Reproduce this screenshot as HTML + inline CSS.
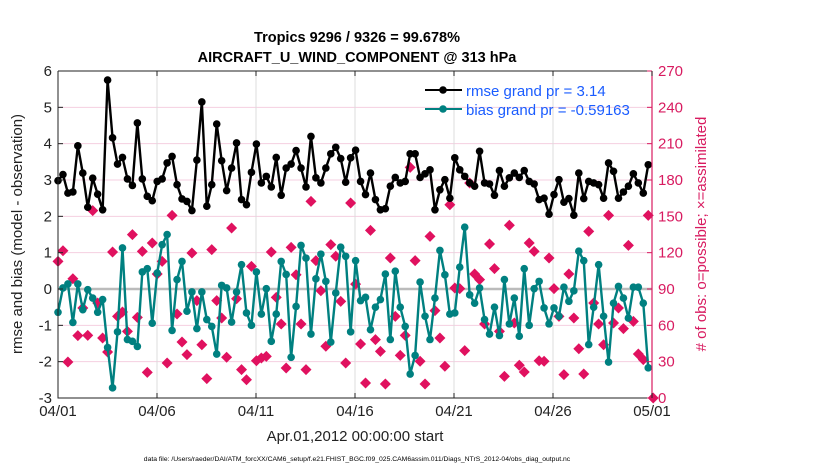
<!DOCTYPE html>
<html><head><meta charset="utf-8"><style>
body{margin:0;background:#fff;}
svg{display:block;font-family:"Liberation Sans",Arial,sans-serif;}
</style></head><body>
<svg id="chart" width="830" height="470" viewBox="0 0 830 470" xmlns="http://www.w3.org/2000/svg">
<rect width="830" height="470" fill="#fff"/>
<text x="357" y="42" text-anchor="middle" font-size="14.5" font-weight="bold">Tropics 9296 / 9326 = 99.678%</text>
<text x="357" y="62" text-anchor="middle" font-size="14.5" font-weight="bold">AIRCRAFT_U_WIND_COMPONENT @ 313 hPa</text>
<g id="grid"></g>
<g id="marks"></g>
<g id="axes"></g>
<text transform="translate(22,234) rotate(-90)" text-anchor="middle" font-size="15" fill="#222">rmse and bias (model - observation)</text>
<text transform="translate(706,234) rotate(-90)" text-anchor="middle" font-size="15" fill="#d81b60"># of obs: o=possible; ×=assimilated</text>
<text x="355" y="441" text-anchor="middle" font-size="15" fill="#222">Apr.01,2012 00:00:00 start</text>
<text x="357" y="461" text-anchor="middle" font-size="6.8" fill="#000">data file: /Users/raeder/DAI/ATM_forcXX/CAM6_setup/f.e21.FHIST_BGC.f09_025.CAM6assim.011/Diags_NTrS_2012-04/obs_diag_output.nc</text>
<g>
<line x1="425" y1="90" x2="462" y2="90" stroke="#000" stroke-width="2"/>
<circle cx="443" cy="90" r="3.8" fill="#000"/>
<text x="466" y="96" font-size="15" fill="#1a5cff">rmse grand pr = 3.14</text>
<line x1="425" y1="109" x2="462" y2="109" stroke="#008080" stroke-width="2"/>
<circle cx="443" cy="109" r="3.8" fill="#008080"/>
<text x="466" y="115" font-size="15" fill="#1a5cff">bias grand pr = -0.59163</text>
</g>
</svg>
<script>
const xTickLabels = ["04/01","04/06","04/11","04/16","04/21","04/26","05/01"];
const xTickDays = [0,5,10,15,20,25,30];
const leftTicks = [-3,-2,-1,0,1,2,3,4,5,6];
const rightTicks = [0,30,60,90,120,150,180,210,240,270];
const rmse = [2.98,3.15,2.64,2.67,3.94,3.19,2.25,3.05,2.61,2.18,5.75,4.16,3.44,3.62,3.03,2.85,4.57,3.03,2.55,2.43,2.96,3.03,3.47,3.65,2.87,2.48,2.41,2.16,3.55,5.15,
2.28,2.87,4.54,3.53,2.71,3.33,4.02,2.46,2.32,3.21,3.99,2.92,3.10,2.81,3.62,2.58,3.33,3.44,3.81,3.33,2.81,4.20,3.06,2.92,3.33,3.72,3.90,3.59,2.94,3.61,
3.82,2.96,2.60,3.19,2.46,2.18,2.21,2.83,3.07,2.92,2.96,3.72,3.72,3.07,3.17,3.28,2.18,2.73,3.01,2.50,3.61,3.28,3.10,2.92,2.83,3.79,2.92,2.89,2.58,3.26,
2.83,3.06,3.19,3.07,3.26,2.96,2.89,2.46,2.50,2.06,2.60,3.01,2.39,2.49,2.03,3.19,2.49,2.96,2.92,2.87,2.50,3.47,3.24,2.50,2.67,2.83,3.17,2.92,2.64,3.42];
const bias = [-0.64,0.03,0.14,-0.92,0.14,-0.57,-0.02,-0.25,-0.64,-0.29,-1.61,-2.72,-1.18,1.13,-1.39,-1.44,-1.58,0.47,0.56,-0.94,0.44,1.22,1.50,-1.14,0.26,0.76,-0.61,-0.08,-1.09,-0.08,
-0.84,-1.03,-1.79,0.10,0.03,-0.91,-0.08,0.67,-0.66,-1.00,0.47,-0.69,0.01,-1.44,-0.69,0.76,0.40,-1.88,-0.48,1.20,0.85,-1.24,0.28,0.96,0.21,-1.46,-0.11,1.15,0.90,-1.18,
0.78,-0.32,-0.23,-1.12,-0.50,-0.29,0.41,-1.39,0.49,-0.50,-1.03,-2.34,-1.83,0.19,-0.75,-1.39,-0.25,1.06,0.39,-0.69,-0.66,0.60,1.70,-0.16,-0.39,0.03,-0.84,-1.24,-0.50,-1.28,
0.26,-0.96,-0.25,-1.30,0.56,-1.00,0.01,0.21,-0.52,-0.96,-0.52,-0.75,0.05,-0.34,-0.05,1.04,0.78,-1.53,-0.50,0.67,-0.75,-2.01,-0.39,0.07,-0.25,-0.80,0.05,0.05,-0.39,-2.17];
const nobs = [112.8,121.6,29.7,98.5,51.5,74.3,51.7,154.7,78.4,49.5,38.0,120.5,67.4,71.0,55.0,134.9,66.6,121.1,21.2,128.0,102.4,112.8,28.9,150.8,69.4,46.2,35.8,119.7,80.4,44.0,
16.0,122.5,80.4,66.1,33.6,140.4,82.0,23.4,15.1,108.7,30.8,33.0,34.4,120.5,83.1,61.1,24.8,124.4,101.8,61.1,23.4,162.4,113.4,88.6,42.7,126.6,117.0,79.8,28.9,161.0,
94.0,44.6,12.4,138.4,48.2,38.5,11.6,115.6,67.4,35.2,51.7,190.4,113.4,30.3,11.6,133.5,72.1,49.5,26.2,159.6,90.8,90.3,39.1,177.5,102.4,97.7,61.1,127.2,106.8,55.0,
17.9,142.6,61.9,27.0,21.5,128.0,121.1,30.8,30.3,115.6,90.3,67.4,19.3,102.4,66.1,40.7,19.8,137.6,78.4,61.1,44.0,150.8,61.9,74.3,57.3,126.0,63.3,36.3,31.7,150.8,0];

const X0=58, X1=652, Y0=71, Y1=398;
const NS='http://www.w3.org/2000/svg';
const xDay = d => X0 + (X1-X0)*d/30;
const xIdx = i => X0 + i*4.96;
const yL = v => Y1 - (v+3)*(Y1-Y0)/9;
const yR = v => Y1 - v*(Y1-Y0)/270;
function mk(tag, attrs, parent){const e=document.createElementNS(NS,tag);for(const k in attrs)e.setAttribute(k,attrs[k]);document.getElementById(parent).appendChild(e);return e;}
rightTicks.forEach((t,i)=>{ if(t>0&&t<270){const g=mk('line',{x1:X0,x2:X1,y1:yR(t),y2:yR(t),stroke:'#f5cfe0','stroke-width':1},'grid');

}});
xTickDays.forEach(d=>{ if(d>0&&d<30){const g=mk('line',{x1:xDay(d),x2:xDay(d),y1:Y0,y2:Y1,stroke:'#dcdcdc','stroke-width':1},'grid');

}});
const zl=mk('line',{x1:X0,x2:X1,y1:yL(0),y2:yL(0),stroke:'#bbb','stroke-width':2.5},'grid');


nobs.forEach((v,i)=>{const x=xIdx(i),y=yR(v);
const g=mk('path',{d:`M${x-5.5},${y}L${x},${y-5.5}L${x+5.5},${y}L${x},${y+5.5}Z`,fill:'#e0115f'},'marks');

});
function series(arr,color,name){
const p=mk('polyline',{points:arr.map((v,i)=>xIdx(i)+','+yL(v)).join(' '),fill:'none',stroke:color,'stroke-width':2.4,'stroke-linejoin':'round'},'marks');


arr.forEach((v,i)=>{const c=mk('circle',{cx:xIdx(i),cy:yL(v),r:3.8,fill:color},'marks');

});}
series(rmse,'#000','rmse');
series(bias,'#008080','bias');
const box=mk('path',{d:`M${X0},${Y0}H${X1}M${X0},${Y0}V${Y1}H${X1}`,fill:'none',stroke:'#222','stroke-width':1},'axes');


const ra=mk('line',{x1:X1,x2:X1,y1:Y0,y2:Y1,stroke:'#d81b60','stroke-width':1.2},'axes');


leftTicks.forEach(t=>{const y=yL(t);
mk('line',{x1:X0,x2:X0+5,y1:y,y2:y,stroke:'#222'},'axes');
const tx=mk('text',{x:X0-6,y:y+5,'text-anchor':'end','font-size':15,fill:'#222'},'axes');tx.textContent=t;

});
rightTicks.forEach(t=>{const y=yR(t);
mk('line',{x1:X1-5,x2:X1,y1:y,y2:y,stroke:'#d81b60'},'axes');
const tx=mk('text',{x:X1+6,y:y+5,'font-size':15,fill:'#d81b60'},'axes');tx.textContent=t;

});
xTickDays.forEach((d,i)=>{const x=xDay(d);
mk('line',{x1:x,x2:x,y1:Y1,y2:Y1-5,stroke:'#222'},'axes');
mk('line',{x1:x,x2:x,y1:Y0,y2:Y0+5,stroke:'#222'},'axes');
const tx=mk('text',{x:x,y:Y1+18,'text-anchor':'middle','font-size':15,fill:'#222'},'axes');tx.textContent=xTickLabels[i];

});
</script>
</body></html>
